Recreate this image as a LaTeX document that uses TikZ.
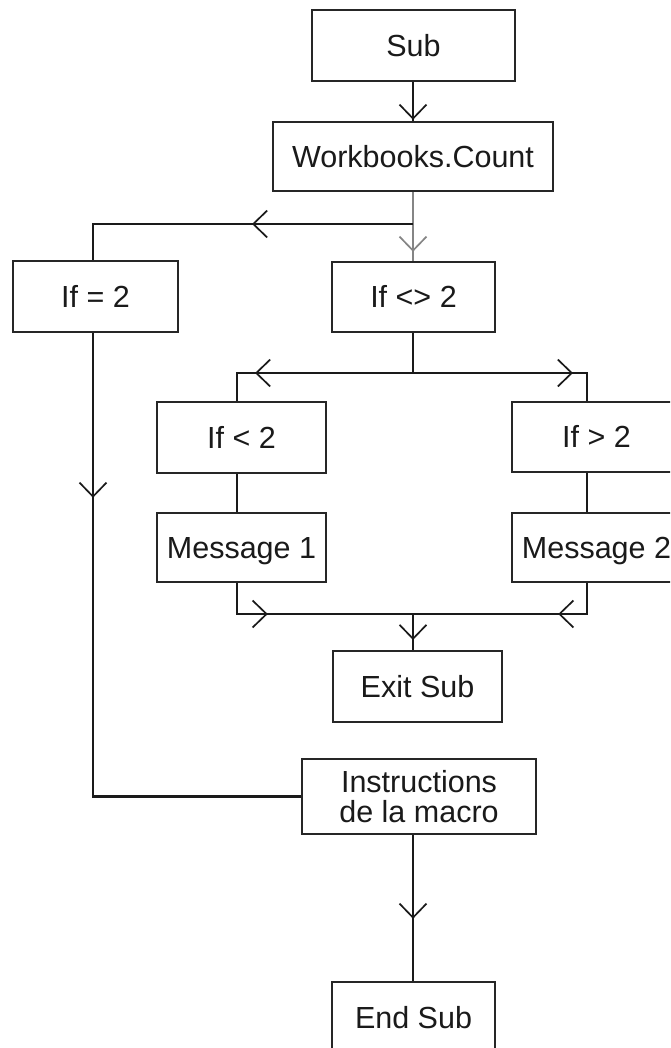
\documentclass[tikz,border=0pt]{standalone}
\usepackage{fontspec}
\setmainfont{Liberation Sans}
\usetikzlibrary{arrows.meta,decorations.markings}

\definecolor{ink}{HTML}{1A1A1A}
\definecolor{boxline}{HTML}{262626}
\definecolor{greyline}{HTML}{858585}

\tikzset{
  boxbase/.style={draw=boxline, line width=1.6pt, fill=white, text=ink,
    inner sep=0pt, font=\fontsize{30.5}{30}\selectfont},
  stepbox/.style={boxbase, minimum height=#1, text height=21.5pt, text depth=0pt},
  stepbox/.default=71pt,
  conn/.style={draw=ink, line width=2.8pt},
  greyconn/.style={draw=greyline, line width=2.4pt},
  chevtip/.tip={Straight Barb[length=14pt, width=27pt, line width=1.7pt]},
  chev/.style={postaction={decorate, decoration={markings,
      mark=at position #1pt with {\arrow{chevtip}}}}},
}

\begin{document}
\begin{tikzpicture}[x=1pt, y=-1pt]
  \path[use as bounding box] (0,0) rectangle (670,1048);
  \clip (0,0) rectangle (670,1048);

  % columns of the vertical connectors
  \coordinate (colE)  at (93,0);
  \coordinate (colL)  at (237,0);
  \coordinate (spine) at (413,0);
  \coordinate (colR)  at (587,0);

  % junctions
  \coordinate (fork)  at (413,224);
  \coordinate (split) at (413,373);
  \coordinate (merge) at (413,614);

  % boxes
  \node[stepbox, minimum width=203pt] (sub)     at (413.5,45.5)  {Sub};
  \node[stepbox=69pt, minimum width=280pt] (wc) at (413,156.5)   {Workbooks.Count};
  \node[stepbox, minimum width=165pt] (ifeq)    at (95.5,296.5)  {If = 2};
  \node[stepbox=70pt, minimum width=163pt] (ifne) at (413.5,297) {If <> 2};
  \node[stepbox, minimum width=169pt] (iflt)    at (241.5,437.5) {If < 2};
  \node[stepbox=70pt, minimum width=169pt] (ifgt) at (596.5,437) {If > 2};
  \node[stepbox=69pt, minimum width=169pt] (msg1) at (241.5,547.5) {Message 1};
  \node[stepbox=69pt, minimum width=169pt] (msg2) at (596.5,547.5) {Message 2};
  \node[stepbox, minimum width=169pt] (exitsub) at (417.5,686.5) {Exit Sub};
  \node[boxbase, minimum height=75pt, minimum width=234pt, align=center]
        (instr) at (419,796.5) {Instructions\\de la macro};
  \node[stepbox, minimum width=163pt] (endsub)  at (413.5,1017.5) {End Sub};

  % connectors
  \draw[conn, chev=38] (sub.south -| spine) -- (wc.north -| spine);
  \draw[greyconn, chev=60] (wc.south -| spine) -- (ifne.north -| spine);
  \draw[conn, chev=161] (fork) -| (ifeq.north -| colE);
  \draw[conn, chev=165] (ifeq.south -| colE) |- (instr.west);

  \draw[conn] (ifne.south -| spine) -- (split);
  \draw[conn, chev=158] (split) -| (iflt.north -| colL);
  \draw[conn, chev=160] (split) -| (ifgt.north -| colR);
  \draw[conn] (iflt.south -| colL) -- (msg1.north -| colL);
  \draw[conn] (ifgt.south -| colR) -- (msg2.north -| colR);
  \draw[conn, chev=62] (msg1.south -| colL) |- (merge);
  \draw[conn, chev=60] (msg2.south -| colR) |- (merge);
  \draw[conn, chev=26] (merge) -- (exitsub.north -| spine);

  \draw[conn, chev=84] (instr.south -| spine) -- (endsub.north -| spine);
\end{tikzpicture}
\end{document}
